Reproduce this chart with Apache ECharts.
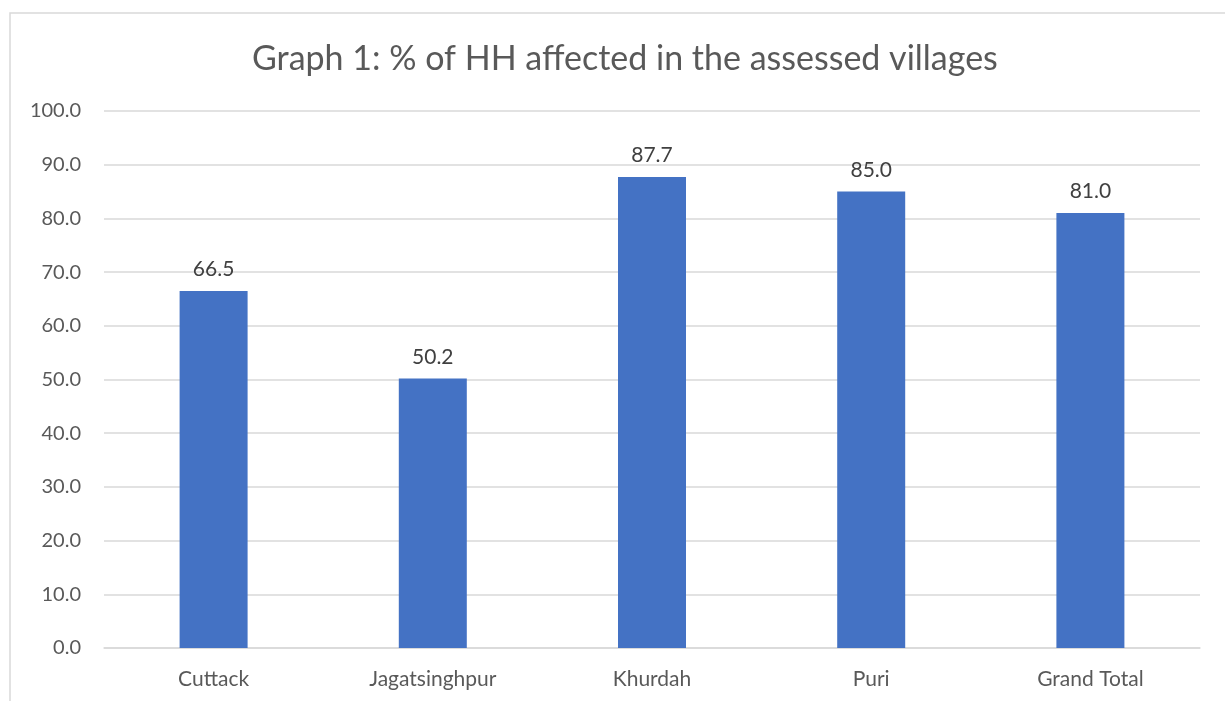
<!DOCTYPE html>
<html>
<head>
<meta charset="utf-8">
<script src="https://cdn.jsdelivr.net/npm/echarts@6/dist/echarts.min.js"></script>
<style>
  html, body { margin: 0; padding: 0; background: #fff; }
  #chart { width: 1225px; height: 701px; }
</style>
</head>
<body>
<div id="chart"></div>
<script>
  // data
  const categories = ['Cuttack', 'Jagatsinghpur', 'Khurdah', 'Puri', 'Grand Total'];
  const affectedPct = [66.5, 50.2, 87.7, 85.0, 81.0];
  const titleText = 'Graph 1: % of HH affected in the assessed villages';

  const font = 'Lato, "Open Sans", sans-serif';
  const chart = echarts.init(document.getElementById('chart'));
  chart.setOption({
    animation: false,
    backgroundColor: '#fff',
    title: {
      text: titleText,
      left: 247,
      top: 37,
      textStyle: { fontFamily: font, fontSize: 34, fontWeight: 'normal', color: '#595959' }
    },
    graphic: [{
      type: 'rect',
      shape: { x: 10, y: 13, width: 1240, height: 720 },
      style: { fill: 'none', stroke: '#d9d9d9', lineWidth: 1.5 },
      silent: true
    }],
    grid: { left: 104, right: 25, top: 111, bottom: 53 },
    xAxis: {
      type: 'category',
      data: categories,
      axisTick: { show: false },
      axisLine: { lineStyle: { color: '#d9d9d9', width: 1.5 } },
      axisLabel: { fontFamily: font, fontSize: 21, color: '#595959', margin: 21 }
    },
    yAxis: {
      type: 'value',
      min: 0,
      max: 100,
      interval: 10,
      axisLine: { show: false },
      axisTick: { show: false },
      splitLine: { lineStyle: { color: '#d9d9d9', width: 1.5 } },
      axisLabel: {
        fontFamily: font, fontSize: 20, color: '#595959', margin: 23,
        formatter: v => v.toFixed(1)
      }
    },
    series: [{
      type: 'bar',
      data: affectedPct,
      barWidth: 68,
      itemStyle: { color: '#4472C4' },
      label: {
        show: true,
        position: 'top',
        distance: 11,
        fontFamily: font,
        fontSize: 21,
        color: '#404040',
        formatter: p => p.value.toFixed(1)
      }
    }]
  });
</script>
</body>
</html>
